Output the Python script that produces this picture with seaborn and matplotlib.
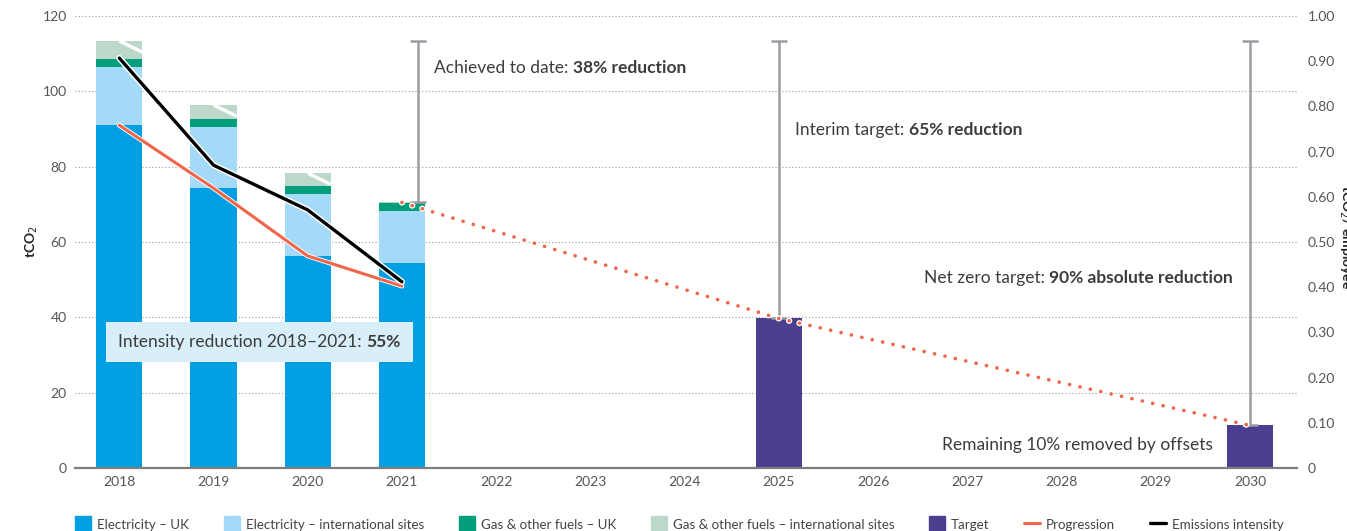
import pandas as pd
import numpy as np
import seaborn as sns
import matplotlib.pyplot as plt
import matplotlib.patheffects as pe
from matplotlib.lines import Line2D
from matplotlib.patches import Patch
from matplotlib.offsetbox import TextArea, HPacker, AnnotationBbox

# data
years = [str(y) for y in range(2018, 2031)]
actual_years = ["2018", "2019", "2020", "2021"]
elec_uk = [91.0, 74.3, 56.3, 54.4]
elec_intl = [15.5, 16.2, 16.4, 13.8]
gas_uk = [2.1, 2.1, 2.2, 2.1]
gas_intl = [4.8, 3.8, 3.4, 0.2]
target_years = ["2025", "2030"]
target = [39.7, 11.3]
progression = [91.0, 74.3, 56.3, 48.3]
intensity = [0.907, 0.670, 0.571, 0.412]

blue = "#009fe3"
light_blue = "#a4daf7"
green = "#009e7b"
light_green = "#bcd8ca"
purple = "#4a3f8e"
orange = "#f0664a"
grey_txt = "#3c3c3c"
range_grey = "#9b9da1"

sns.set_theme(style="white")
plt.rcParams["font.family"] = ["Lato", "DejaVu Sans"]

df = pd.DataFrame({"year": actual_years, "elec_uk": elec_uk, "elec_intl": elec_intl,
                   "gas_uk": gas_uk, "gas_intl": gas_intl})
df["c1"] = df["elec_uk"]
df["c2"] = df["c1"] + df["elec_intl"]
df["c3"] = df["c2"] + df["gas_uk"]
df["c4"] = df["c3"] + df["gas_intl"]

fig = plt.figure(figsize=(13.47, 5.31), dpi=100, facecolor="white")
ax = fig.add_axes([75 / 1347, 1 - 468 / 531, (1297 - 75) / 1347, 452 / 531])

bw = 0.49
# stacked bars: draw cumulative totals from the top layer down
for col, c in [("c4", light_green), ("c3", green), ("c2", light_blue), ("c1", blue)]:
    sns.barplot(data=df, x="year", y=col, order=years, color=c, width=bw,
                saturation=1, linewidth=0, ax=ax)
sns.barplot(x=target_years, y=target, order=years, color=purple, width=bw,
            saturation=1, linewidth=0, ax=ax)

pos = {y: i for i, y in enumerate(years)}
xa = [pos[y] for y in actual_years]
totals = df["c4"].tolist()

# white slashes at the top of the 2018-2020 bars
for x, t in zip(xa[:3], totals[:3]):
    ax.plot([x, x + bw / 2], [t, t - 3.0], color="white", lw=2.5, solid_capstyle="butt", zorder=3)

# pathway to targets (dotted)
path_x = [xa[-1]] + [pos[y] for y in target_years]
path_y = [totals[-1]] + target
ax.plot(path_x, path_y, color=orange, lw=2.6, linestyle=(0, (0.05, 2.9)),
        dash_capstyle="round", zorder=4,
        path_effects=[pe.Stroke(linewidth=4.5, foreground="white"), pe.Normal()])

# progression line
ax.plot(xa, progression, color=orange, lw=2.2, zorder=5,
        path_effects=[pe.Stroke(linewidth=3.5, foreground="white"), pe.Normal()])

# range markers from the 2018 baseline
base = totals[0]
rx = [xa[-1] + 0.17] + [pos[y] for y in target_years]
lows = [totals[-1]] + target
for x, lo in zip(rx, lows):
    ax.errorbar([x], [(base + lo) / 2], yerr=[(base - lo) / 2], fmt="none",
                ecolor=range_grey, elinewidth=1.8, capsize=6, capthick=1.8, zorder=3)

ax.set_xlim(-0.47, 12.5)
ax.set_ylim(0, 120)
ax.set_yticks(np.arange(0, 121, 20))
ax.set_xlabel("")
ax.set_ylabel("tCO$_2$", fontsize=10, fontweight="bold", color="#222222", labelpad=2)
ax.set_axisbelow(True)
ax.yaxis.grid(True, color="#9a9a9a", linestyle=(0, (1, 2)), lw=0.8)
ax.xaxis.grid(False)
for s in ["top", "left", "right"]:
    ax.spines[s].set_visible(False)
ax.spines["bottom"].set_color("#7d7d7d")
ax.spines["bottom"].set_linewidth(1.6)
ax.tick_params(axis="both", length=0, labelsize=10, labelcolor="#555555", pad=6)

ax2 = ax.twinx()
ax2.plot(xa, intensity, color="black", lw=2.4, zorder=6,
         path_effects=[pe.Stroke(linewidth=4.5, foreground="white"), pe.Normal()])
ax2.set_ylim(0, 1)
ax2.set_yticks(np.arange(0, 1.01, 0.1))
ax2.set_yticklabels(["0"] + ["%.2f" % v for v in np.arange(0.1, 1.01, 0.1)])
ax2.tick_params(axis="y", length=0, labelsize=10, labelcolor="#555555", pad=8)
for s in ax2.spines.values():
    s.set_visible(False)
ax2.grid(False)
# right-hand axis title runs off the edge of the picture, as in the original
fig.text(1345 / 1347, 1 - 237 / 531, "tCO$_2$/ employee", rotation=270, ha="center",
         va="center", fontsize=10, fontweight="bold", color="#222222")


def rich(ax, x, y, normal, bold, align, box=False):
    tp = dict(fontsize=12.5, color=grey_txt)
    parts = [TextArea(normal, textprops=tp),
             TextArea(bold, textprops=dict(tp, fontweight="bold"))]
    pack = HPacker(children=parts, align="baseline", pad=6 if box else 0, sep=0)
    ab = AnnotationBbox(pack, (x, y), xycoords="data", box_alignment=align,
                        frameon=box, pad=0.25,
                        bboxprops=dict(facecolor="#d8eff9", edgecolor="none"))
    ab.set_zorder(7)
    ax.add_artist(ab)


rich(ax2, 3.34, (468 - 68) / 452, "Achieved to date: ", "38% reduction", (0, 0.5))
rich(ax2, 7.17, (468 - 130) / 452, "Interim target: ", "65% reduction", (0, 0.5))
rich(ax2, 11.82, (468 - 278) / 452, "Net zero target: ", "90% absolute reduction", (1, 0.5))
rich(ax2, 11.61, (468 - 445) / 452, "Remaining 10% removed by offsets", "", (1, 0.5))
rich(ax2, -0.10, (468 - 342) / 452, "Intensity reduction 2018\u20132021: ", "55%", (0, 0.5), box=True)

handles = [Patch(color=blue), Patch(color=light_blue), Patch(color=green),
           Patch(color=light_green), Patch(color=purple),
           Line2D([], [], color=orange, lw=2.2), Line2D([], [], color="black", lw=2.4)]
labels = ["Electricity \u2013 UK", "Electricity \u2013 international sites",
          "Gas & other fuels \u2013 UK", "Gas & other fuels \u2013 international sites",
          "Target", "Progression", "Emissions intensity"]
fig.legend(handles, labels, ncol=7, loc="lower left", bbox_to_anchor=(75 / 1347, -0.004),
           frameon=False, fontsize=9.6, handlelength=1.2, handleheight=1.55,
           handletextpad=0.45, columnspacing=2.6, borderpad=0, borderaxespad=0,
           labelcolor="#444444")

fig.savefig("out.png", dpi=100, facecolor="white")
